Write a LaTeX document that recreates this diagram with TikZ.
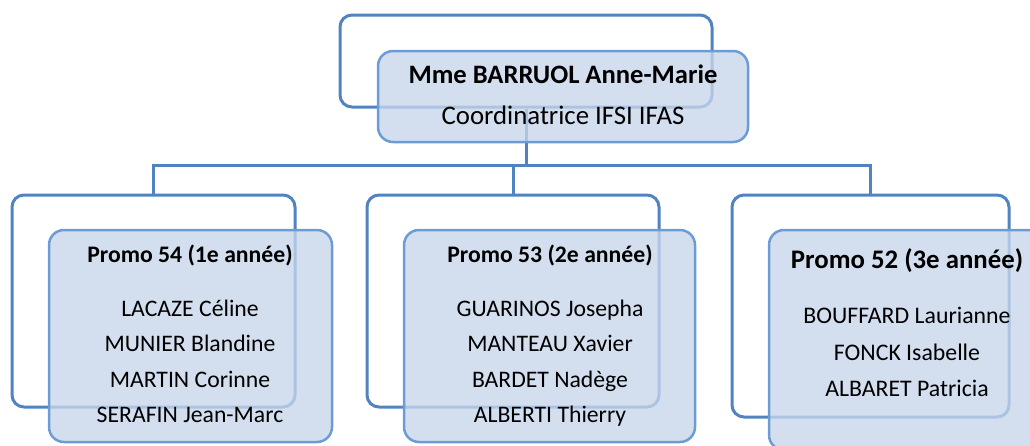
\documentclass[tikz,border=0pt]{standalone}
\usepackage{fontspec}
\setmainfont{Carlito}
\definecolor{lineblue}{RGB}{80,131,192}
\definecolor{edgeblue}{RGB}{108,156,212}
\definecolor{fillblue}{RGB}{199,214,235}
\tikzset{
  outbox/.style={draw=lineblue, line width=3pt, rounded corners=12pt, fill=none},
  fillbox/.style={draw=edgeblue, line width=2.5pt, rounded corners=15pt, fill=fillblue, fill opacity=0.78},
  conn/.style={draw=lineblue, line width=3pt},
  txt/.style={inner sep=0pt, anchor=base, text=black},
}
\begin{document}
\begin{tikzpicture}[x=1pt,y=-1pt]
\useasboundingbox (0,0) rectangle (1030,445);
\begin{scope}
\clip (0,0) rectangle (1030,445);
% outline boxes
\node[outbox, minimum width=372pt, minimum height=92pt] (topo) at (526,61) {};
\node[outbox, minimum width=283pt, minimum height=212pt] (lo) at (153.5,301) {};
\node[outbox, minimum width=292pt, minimum height=212pt] (mo) at (513,301) {};
\node[outbox, minimum width=277pt, minimum height=222pt] (ro) at (870.5,306) {};
% connectors
\coordinate (bus) at (526,165);
\draw[conn] (topo.south) -- (topo.south |- bus);
\draw[conn] (lo.north) |- (bus);
\draw[conn] (mo.north) |- (bus);
\draw[conn] (ro.north) |- (bus);
% filled boxes
\node[fillbox, minimum width=370pt, minimum height=91pt] (topf) at (563,96.5) {};
\node[fillbox, minimum width=283pt, minimum height=212pt] (lf) at (190.5,336) {};
\node[fillbox, minimum width=291pt, minimum height=212pt] (mf) at (549.5,336) {};
\node[fillbox, minimum width=276pt, minimum height=220pt] (rf) at (907,340) {};
\end{scope}
% texts
\node[txt, font=\fontsize{26.6}{30}\selectfont\bfseries] (t1) at (563,83) {Mme BARRUOL Anne-Marie};
\node[txt, font=\fontsize{26.8}{30}\selectfont] (t2) at (563,124) {Coordinatrice IFSI IFAS};

\node[txt, font=\fontsize{23.7}{28}\selectfont\bfseries] (l0) at (190,262) {Promo 54 (1e année)};
\node[txt, font=\fontsize{23.7}{28}\selectfont] (l1) at (190,316) {LACAZE Céline};
\node[txt, font=\fontsize{23.7}{28}\selectfont] (l2) at (190,351) {MUNIER Blandine};
\node[txt, font=\fontsize{23.7}{28}\selectfont] (l3) at (190,387) {MARTIN Corinne};
\node[txt, font=\fontsize{23.7}{28}\selectfont] (l4) at (190,422) {SERAFIN Jean-Marc};

\node[txt, font=\fontsize{23.7}{28}\selectfont\bfseries] (m0) at (550,262) {Promo 53 (2e année)};
\node[txt, font=\fontsize{23.7}{28}\selectfont] (m1) at (550,316) {GUARINOS Josepha};
\node[txt, font=\fontsize{23.7}{28}\selectfont] (m2) at (550,351) {MANTEAU Xavier};
\node[txt, font=\fontsize{23.7}{28}\selectfont] (m3) at (550,387) {BARDET Nadège};
\node[txt, font=\fontsize{23.7}{28}\selectfont] (m4) at (550,422) {ALBERTI Thierry};

\node[txt, font=\fontsize{26.8}{30}\selectfont\bfseries] (r0) at (907,268) {Promo 52 (3e année)};
\node[txt, font=\fontsize{23.8}{28}\selectfont] (r1) at (907,323) {BOUFFARD Laurianne};
\node[txt, font=\fontsize{23.8}{28}\selectfont] (r2) at (907,360) {FONCK Isabelle};
\node[txt, font=\fontsize{23.8}{28}\selectfont] (r3) at (907,396) {ALBARET Patricia};
\end{tikzpicture}
\end{document}
